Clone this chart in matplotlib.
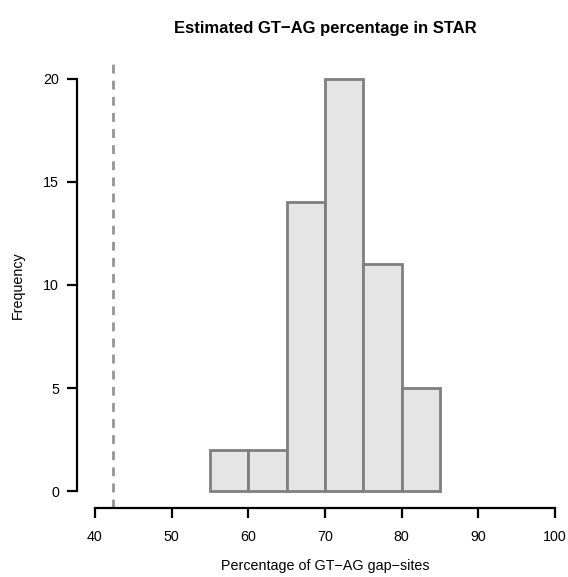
import matplotlib
matplotlib.use("Agg")
import matplotlib.pyplot as plt

# Histogram data
bin_edges = [55, 60, 65, 70, 75, 80, 85]
counts = [2, 2, 14, 20, 11, 5]
threshold = 42.3
x_ticks = [40, 50, 60, 70, 80, 90, 100]
y_ticks = [0, 5, 10, 15, 20]

plt.rcParams["font.family"] = ["Liberation Sans", "DejaVu Sans"]

W, H = 568, 577
fig = plt.figure(figsize=(W / 100, H / 100), dpi=100)

# plot region in pixels (R style, 4% axis extension)
left_px, right_px = 76.6, 573.4
top_px, bottom_px = 62.0, 508.0
ax = fig.add_axes([left_px / W, 1 - bottom_px / H,
                   (right_px - left_px) / W, (bottom_px - top_px) / H])
ax.set_xlim(37.6, 102.4)
ax.set_ylim(-0.8, 20.8)

widths = [b - a for a, b in zip(bin_edges[:-1], bin_edges[1:])]
ax.bar(bin_edges[:-1], counts, width=widths, align="edge",
       color="#e5e5e5", edgecolor="#7f7f7f", linewidth=2.0, zorder=2)

# threshold marker
ax.axvline(threshold, color="#959595", linewidth=2.0,
           linestyle=(0, (3.2, 2.6)), zorder=1)

for side in ("top", "right"):
    ax.spines[side].set_visible(False)
for side in ("left", "bottom"):
    ax.spines[side].set_linewidth(1.6)
ax.spines["left"].set_bounds(y_ticks[0], y_ticks[-1])
ax.spines["bottom"].set_bounds(x_ticks[0], x_ticks[-1])

ax.set_xticks(x_ticks)
ax.set_yticks(y_ticks)
ax.tick_params(axis="both", direction="out", length=7.5, width=1.6,
               labelsize=10.3)
ax.tick_params(axis="y", pad=5)
ax.tick_params(axis="x", pad=8)

cx = (left_px + right_px) / 2
fig.text(cx / W, 1 - 29 / H, "Estimated GT\u2212AG percentage in STAR",
         ha="center", va="center", fontsize=12, fontweight="bold")
fig.text(cx / W, 1 - 566 / H, "Percentage of GT\u2212AG gap\u2212sites",
         ha="center", va="center", fontsize=10.3)
fig.text(18 / W, 1 - 285 / H, "Frequency", ha="center", va="center",
         rotation=90, fontsize=10.3)

fig.savefig("out.png", dpi=100)
